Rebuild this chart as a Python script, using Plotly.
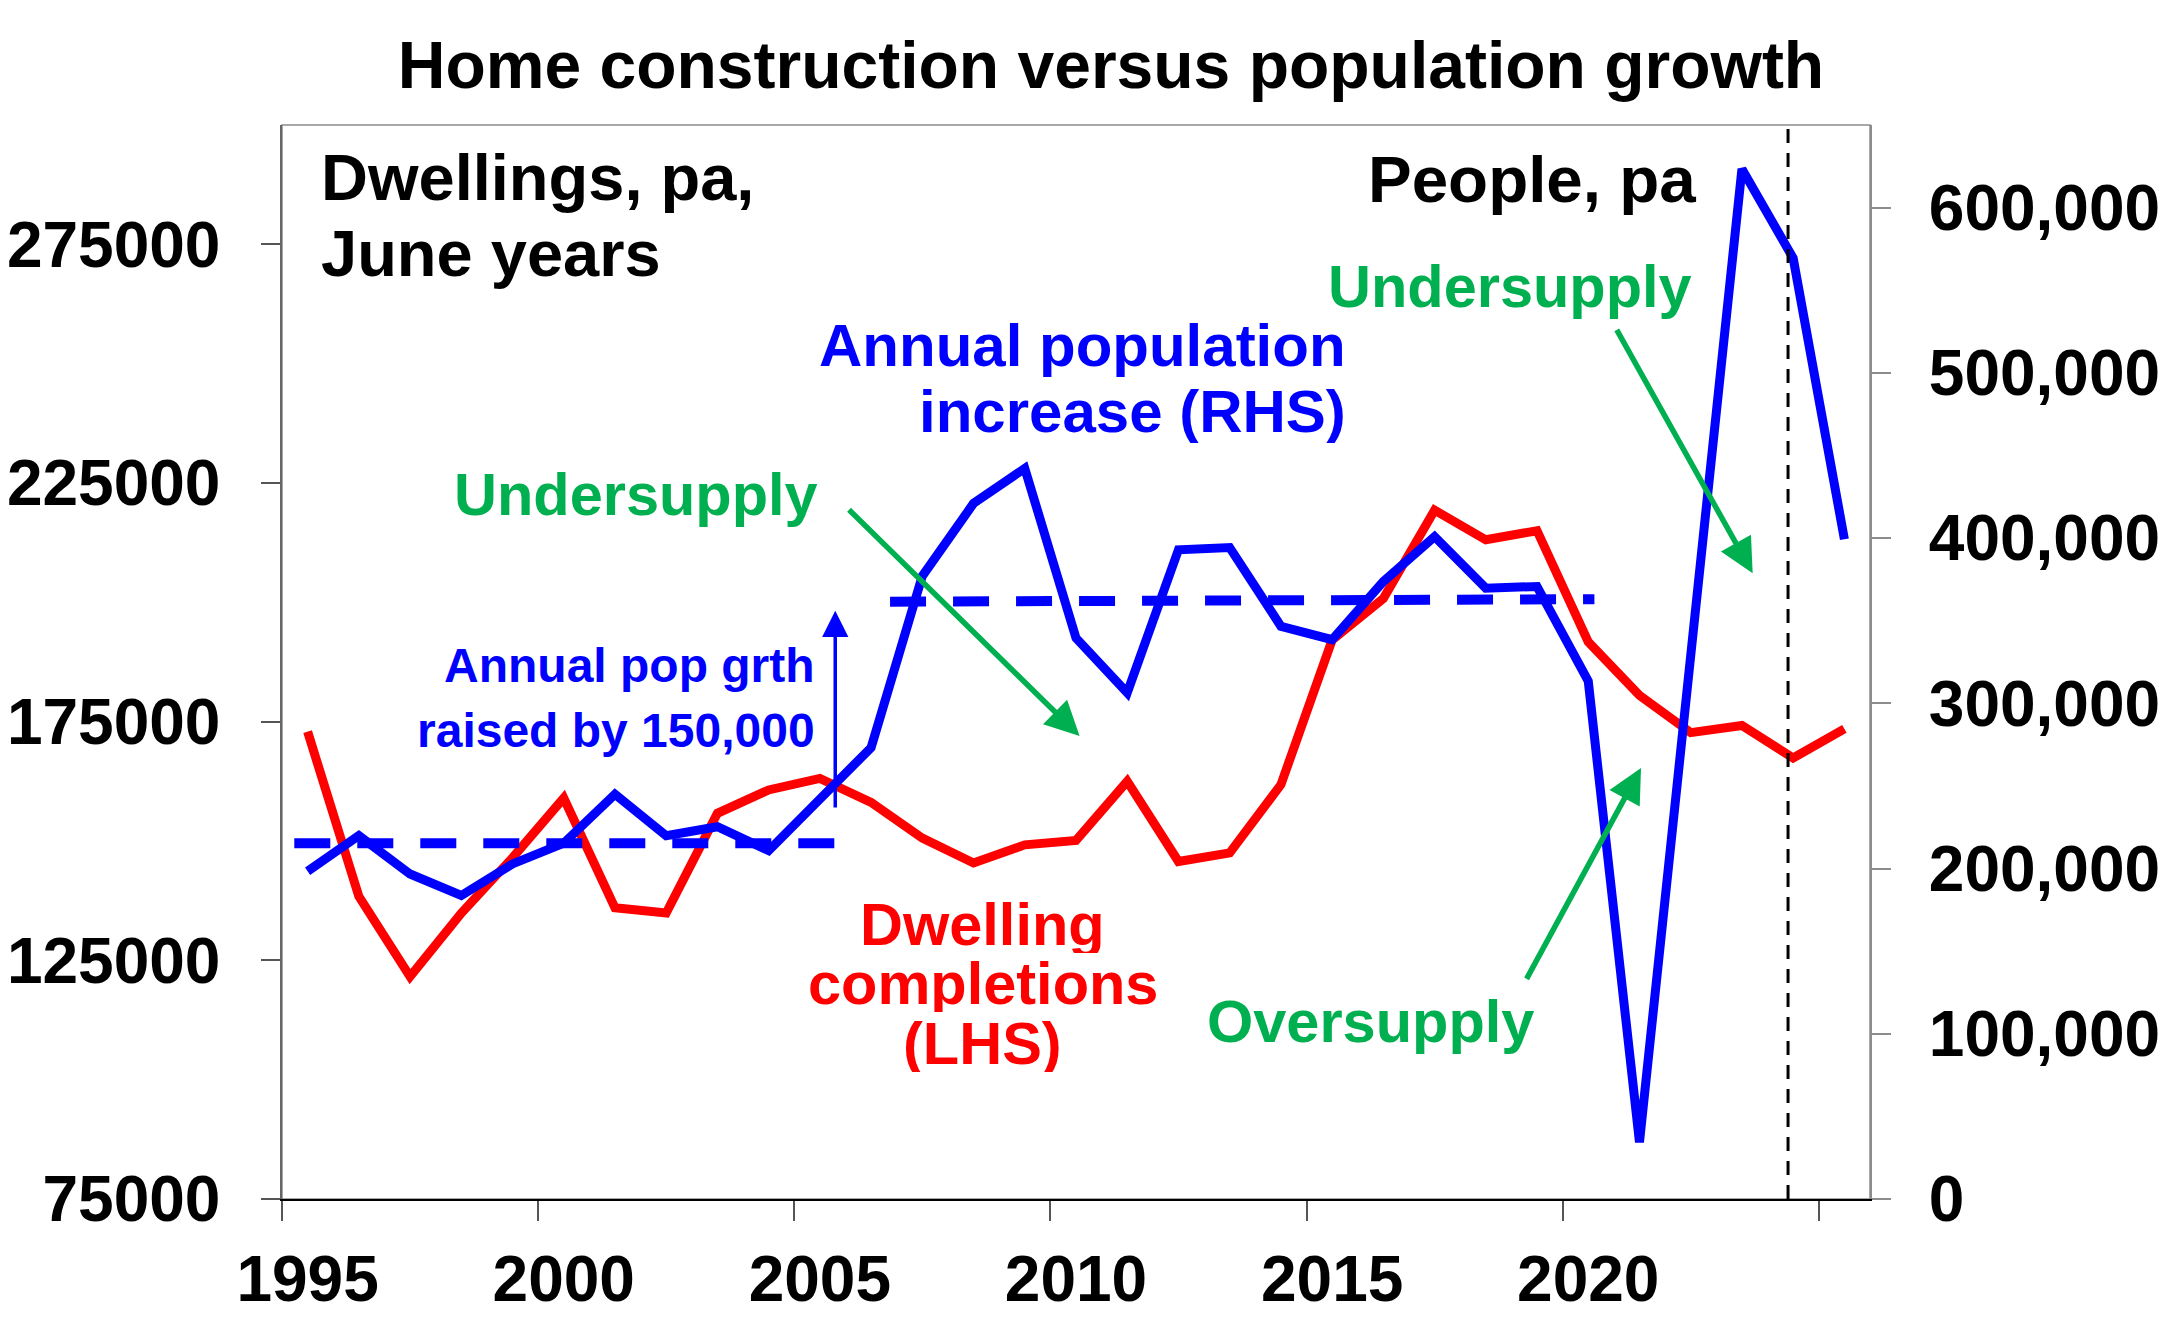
import plotly.graph_objects as go

# ---------------- data ----------------
years = list(range(1995, 2026))
dwelling_completions = [172900, 138400, 121600, 134900, 146500, 159000, 136000, 134900,
                        155800, 160700, 163100, 158100, 150600, 145400, 149200, 150100,
                        162500, 145700, 147500, 161800, 192100, 200800, 219300, 213100,
                        215000, 191700, 180500, 172700, 174200, 167400, 173500]
population_increase = [198400, 219900, 196700, 183700, 202800, 215300, 245000, 219900,
                       225300, 210800, 242000, 273200, 377000, 421000, 442200, 339500,
                       306400, 392900, 394300, 346600, 338500, 373700, 400900, 369700,
                       370700, 313400, 34300, 328000, 623400, 569400, 399300]

# period averages of annual population growth
avg1_years = [1994.74, 2005.29]
avg1_value = [215300, 215300]
avg2_years = [2006.37, 2020.12]
avg2_value = [361500, 363000]

# forecast divider
forecast_year = 2023.9

x_tick_years = [1995, 2000, 2005, 2010, 2015, 2020]
x_boundary_ticks = [1994.5, 1999.5, 2004.5, 2009.5, 2014.5, 2019.5, 2024.5]
left_ticks = [75000, 125000, 175000, 225000, 275000]
right_ticks = [0, 100000, 200000, 300000, 400000, 500000, 600000]

# ---------------- style ----------------
FONT = "Liberation Sans, Arial, sans-serif"
RED = "#FF0000"
BLUE = "#0000FF"
GREEN = "#00B050"
GREY = "#8C8C8C"

fig = go.Figure()

fig.add_trace(go.Scatter(x=years, y=dwelling_completions, mode="lines",
                         line=dict(color=RED, width=9), yaxis="y",
                         name="Dwelling completions (LHS)"))
fig.add_trace(go.Scatter(x=years, y=population_increase, mode="lines",
                         line=dict(color=BLUE, width=9), yaxis="y2",
                         name="Annual population increase (RHS)"))
fig.add_trace(go.Scatter(x=avg1_years, y=avg1_value, mode="lines",
                         line=dict(color=BLUE, width=10, dash="36px,27px"), yaxis="y2"))
fig.add_trace(go.Scatter(x=avg2_years, y=avg2_value, mode="lines",
                         line=dict(color=BLUE, width=10, dash="36px,27px"), yaxis="y2"))

fig.add_vline(x=forecast_year, line=dict(color="black", width=3, dash="14px,10px"))

# plot frame
fig.add_shape(type="rect", xref="x domain", yref="y domain", x0=0, x1=1, y0=0, y1=1,
              line=dict(color=GREY, width=1.5), layer="below")


def txt(s, x, y, color, size, xanchor="left", height=None):
    fig.add_annotation(text=s, x=x, y=y, xref="paper", yref="paper",
                       xanchor=xanchor, yanchor="middle", showarrow=False,
                       height=height,
                       font=dict(family=FONT, size=size, color=color, weight="bold"))


txt("Dwellings, pa,", 0.0230, 0.9516, "black", 65, height=72)
txt("June years", 0.0230, 0.8804, "black", 65, height=72)
txt("People, pa", 0.8917, 0.9488, "black", 65.5, "right")
txt("Undersupply", 0.773, 0.8492, GREEN, 59.5, "center")
txt("Annual population", 0.6713, 0.7952, BLUE, 60, "right", height=64)
txt("increase (RHS)", 0.6713, 0.7337, BLUE, 60, "right", height=64)
txt("Undersupply", 0.2232, 0.6564, GREEN, 59.5, "center")
txt("Annual pop grth", 0.3369, 0.4972, BLUE, 48, "right", height=62)
txt("raised by 150,000", 0.3369, 0.4367, BLUE, 48, "right", height=62)
txt("Dwelling", 0.4414, 0.2561, RED, 59.5, "center", height=58)
txt("completions", 0.4414, 0.2011, RED, 59.5, "center", height=58)
txt("(LHS)", 0.4414, 0.1453, RED, 59.5, "center", height=58)
txt("Oversupply", 0.6854, 0.1657, GREEN, 59.5, "center")


def arrow(x, y, ax, ay, color, width, size, yref="y"):
    fig.add_annotation(x=x, y=y, ax=ax, ay=ay, xref="x", yref=yref,
                       axref="x", ayref=yref, text="", showarrow=True,
                       arrowhead=2, arrowsize=size, arrowwidth=width,
                       arrowcolor=color, standoff=0, startstandoff=0)


arrow(2010.07, 172000, 2005.54, 219700, GREEN, 5.5, 1.25)
arrow(2023.21, 206100, 2020.54, 257400, GREEN, 5.5, 1.25)
arrow(2021.03, 165300, 2018.78, 120800, GREEN, 5.5, 1.25)
arrow(2005.3, 356000, 2005.3, 236000, BLUE, 3.5, 1.5, yref="y2")

fig.update_layout(
    width=2164, height=1316,
    margin=dict(l=274, r=302, t=117, b=125, autoexpand=False),
    paper_bgcolor="white", plot_bgcolor="white",
    showlegend=False,
    title=dict(text="Home construction versus population growth",
               x=0.5097, xref="container", xanchor="center",
               y=0.9567, yref="container", yanchor="middle",
               font=dict(family=FONT, size=66, color="black", weight="bold")),
    xaxis=dict(range=[1994.5, 2025.5], tickmode="array", tickvals=x_tick_years,
               ticktext=[str(v) for v in x_tick_years], ticks="", automargin=False,
               showline=True, linecolor="black", linewidth=2,
               showgrid=False, zeroline=False, ticklabelstandoff=23,
               tickfont=dict(family=FONT, size=64, color="black", weight="bold"),
               minor=dict(tickmode="array", tickvals=x_boundary_ticks, ticks="outside",
                          ticklen=20, tickwidth=1.5, tickcolor="#555555")),
    yaxis=dict(range=[75000, 300000], tickmode="array", tickvals=left_ticks,
               ticktext=[str(v) for v in left_ticks], ticks="outside", ticklen=19,
               tickwidth=1.5, tickcolor="#555555", showline=True, linecolor="#666666",
               linewidth=1.5, showgrid=False, zeroline=False, ticklabelstandoff=28,
               automargin=False,
               tickfont=dict(family=FONT, size=64, color="black", weight="bold")),
    yaxis2=dict(range=[0, 650000], overlaying="y", side="right", tickmode="array",
                tickvals=right_ticks, ticktext=[f"{v:,}" for v in right_ticks],
                ticks="outside", ticklen=19, tickwidth=1.5, tickcolor=GREY,
                showline=True, linecolor=GREY, linewidth=2, showgrid=False,
                zeroline=False, ticklabelstandoff=25, automargin=False,
                tickfont=dict(family=FONT, size=64, color="black", weight="bold")),
)

fig.write_html("out.html")
